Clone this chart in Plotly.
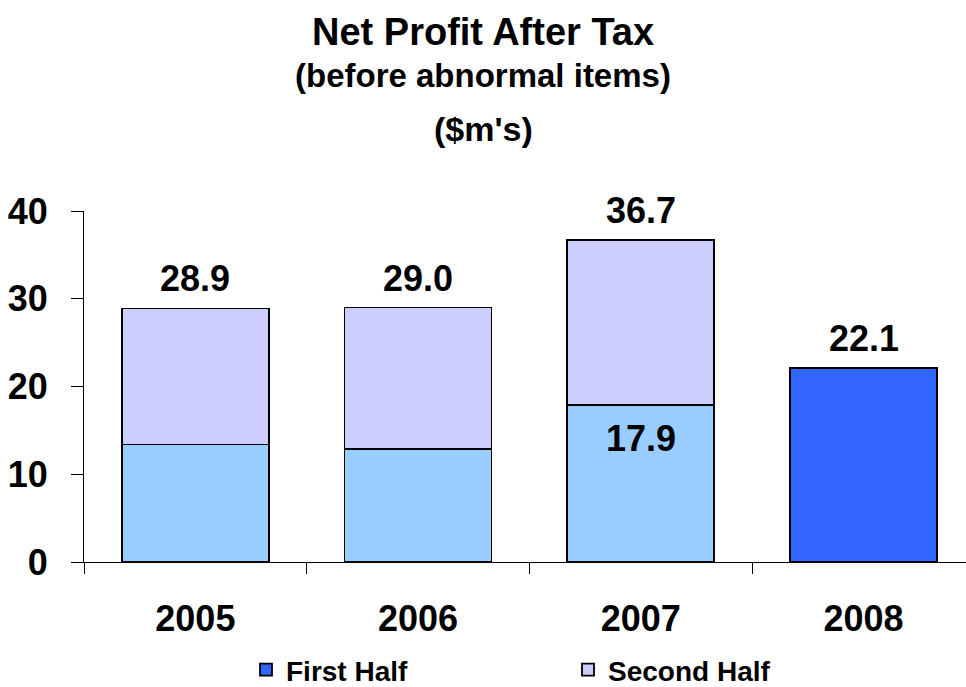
import plotly.graph_objects as go

years = ['2005', '2006', '2007', '2008']
first_half = [13.4, 12.9, 17.9, 22.1]
second_half = [15.5, 16.1, 18.8, None]
totals = [28.9, 29.0, 36.7, 22.1]

FONT = 'Arial, Liberation Sans, sans-serif'
LIGHT_BLUE = '#99CCFF'
DARK_BLUE = '#3366FF'
LAVENDER = '#CCCCFF'

# plot area in pixels: top 211, bottom 562
def py(p):
    return (562 - p) / 351

fig = go.Figure()
# earlier years drawn light blue, 2008 in the darker legend colour
fig.add_trace(go.Bar(
    x=years[:3], y=first_half[:3], name='First Half', legendgroup='first',
    showlegend=False, marker=dict(color=LIGHT_BLUE, line=dict(color='black', width=1.8)),
))
fig.add_trace(go.Bar(
    x=years[3:], y=first_half[3:], name='First Half', legendgroup='first',
    marker=dict(color=DARK_BLUE, line=dict(color='black', width=1.8)),
))
fig.add_trace(go.Bar(
    x=years, y=second_half, name='Second Half',
    marker=dict(color=LAVENDER, line=dict(color='black', width=1.8)),
))

for i, tot in enumerate(totals):
    fig.add_annotation(x=i, y=tot, text=f'{tot:.1f}', showarrow=False,
                       yanchor='bottom', yshift=7,
                       font=dict(size=36, family=FONT, color='black', weight='bold'))
fig.add_annotation(x=2, y=first_half[2], text=f'{first_half[2]:.1f}', showarrow=False,
                   yanchor='top', yshift=-11,
                   font=dict(size=36, family=FONT, color='black', weight='bold'))

titles = [('Net Profit After Tax', 38, 31.5),
          ('(before abnormal items)', 33, 75),
          ("($m's)", 34, 129)]
for txt, size, p in titles:
    fig.add_annotation(xref='paper', yref='paper', x=(483 - 84) / 882, y=py(p),
                       text=txt, showarrow=False, xanchor='center', yanchor='middle',
                       font=dict(size=size, family=FONT, color='black', weight='bold'))

fig.update_layout(
    barmode='stack', bargap=0.34,
    width=966, height=687,
    margin=dict(l=84, r=0, t=211, b=125, pad=0, autoexpand=False),
    plot_bgcolor='white', paper_bgcolor='white',
    font=dict(family=FONT, color='black'),
    showlegend=True,
    legend=dict(orientation='h', x=(246 - 84) / 882, y=py(670), xanchor='left', yanchor='middle',
                entrywidth=277, traceorder='normal',
                font=dict(size=28, family=FONT, color='black', weight='bold')),
    xaxis=dict(type='category', range=[-0.5, 3.46], showline=True, linecolor='black', linewidth=1,
               ticks='outside', tickson='boundaries', ticklen=11, tickcolor='black',
               ticklabelstandoff=25,
               tickfont=dict(size=36, family=FONT, color='black', weight='bold')),
    yaxis=dict(range=[0, 40], tickvals=[0, 10, 20, 30, 40], showline=True, linecolor='black',
               linewidth=1, ticks='outside', ticklen=12, tickcolor='black', showgrid=False,
               zeroline=False, ticklabelstandoff=16,
               tickfont=dict(size=36, family=FONT, color='black', weight='bold')),
)

# drop the browser's default page margin so the figure sits at the window corner
fig.write_html('out.html', config={'displayModeBar': False},
               post_script="document.body.style.margin='0';")
